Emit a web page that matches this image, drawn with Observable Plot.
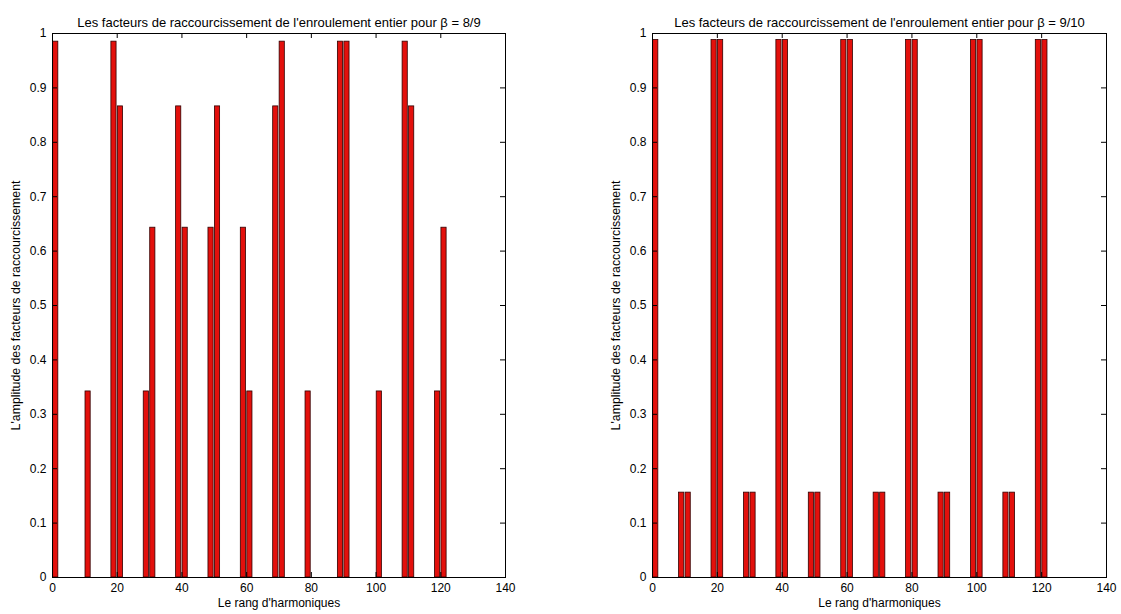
<!DOCTYPE html>
<html>
<head>
<meta charset="utf-8">
<script src="https://cdn.jsdelivr.net/npm/d3@7"></script>
<script src="https://cdn.jsdelivr.net/npm/@observablehq/plot@0.6"></script>
<style>
  html, body { margin: 0; padding: 0; background: #fff; }
  #charts { display: flex; width: 1121px; height: 614px; }
</style>
</head>
<body>
<div id="charts"></div>
<script>
// Harmonic ranks shown on both charts
const harmonics = [1, 9, 11, 19, 21, 29, 31, 39, 41, 49, 51, 59, 61, 69, 71, 79, 81, 89, 91, 99, 101, 109, 111, 119, 121];

// Shortening factors, beta = 8/9
const factors89 = [0.985, 0, 0.342, 0.985, 0.866, 0.342, 0.643, 0.866, 0.643, 0.643, 0.866, 0.643, 0.342,
                   0.866, 0.985, 0.342, 0, 0.985, 0.985, 0, 0.342, 0.985, 0.866, 0.342, 0.643];

// Shortening factors, beta = 9/10
const factors910 = [0.988, 0.156, 0.156, 0.988, 0.988, 0.156, 0.156, 0.988, 0.988, 0.156, 0.156, 0.988, 0.988,
                    0.156, 0.156, 0.988, 0.988, 0.156, 0.156, 0.988, 0.988, 0.156, 0.156, 0.988, 0.988];

const xTicks = [0, 20, 40, 60, 80, 100, 120, 140];
const yTicks = [0, 0.1, 0.2, 0.3, 0.4, 0.5, 0.6, 0.7, 0.8, 0.9, 1];

const titles = [
  "Les facteurs de raccourcissement de l'enroulement entier pour β = 8/9",
  "Les facteurs de raccourcissement de l'enroulement entier pour β = 9/10"
];
const xLabel = "Le rang d'harmoniques";
const yLabel = "L'amplitude des facteurs de raccourcissement";

const barWidth = 1.6;      // 0.8 of the smallest spacing between ranks
const tickPx = 5;          // inward tick length in pixels
const font = "'Liberation Sans', Arial, Helvetica, sans-serif";

function chart(title, values, width, marginLeft, marginRight) {
  const height = 614, marginTop = 33, marginBottom = 37;
  const data = harmonics.map((h, i) => ({h, v: values[i]}));
  const xMax = 140, yMax = 1;
  const innerW = width - marginLeft - marginRight;
  const innerH = height - marginTop - marginBottom;
  const tx = tickPx * xMax / innerW;
  const ty = tickPx * yMax / innerH;
  return Plot.plot({
    width, height, marginLeft, marginRight, marginTop, marginBottom,
    style: {fontFamily: font, fontSize: "11px", background: "#fff", color: "#000"},
    x: {domain: [0, xMax]},
    y: {domain: [0, yMax]},
    marks: [
      Plot.rectY(data, {
        x1: d => d.h - barWidth / 2, x2: d => d.h + barWidth / 2, y: "v",
        fill: "#e3100c", stroke: "#300000", strokeWidth: 0.8
      }),
      // inward ticks on all four sides
      Plot.ruleX(xTicks, {x: d => d, y1: 0, y2: ty, stroke: "#000"}),
      Plot.ruleX(xTicks, {x: d => d, y1: yMax - ty, y2: yMax, stroke: "#000"}),
      Plot.ruleY(yTicks, {y: d => d, x1: 0, x2: tx, stroke: "#000"}),
      Plot.ruleY(yTicks, {y: d => d, x1: xMax - tx, x2: xMax, stroke: "#000"}),
      Plot.frame({stroke: "#000"}),
      Plot.axisX(xTicks, {anchor: "bottom", tickSize: 0, tickPadding: 6, label: null, tickFormat: d => String(d), fontSize: 12}),
      Plot.axisY(yTicks, {anchor: "left", tickSize: 0, tickPadding: 6, label: null, tickFormat: d => String(d), fontSize: 12}),
      Plot.text([title], {text: d => d, frameAnchor: "top", dy: -16, fontSize: 13}),
      Plot.text([xLabel], {text: d => d, frameAnchor: "bottom", dy: 29, fontSize: 12}),
      Plot.text([yLabel], {text: d => d, frameAnchor: "left", textAnchor: "middle", dx: -36, rotate: -90, fontSize: 12.3})
    ]
  });
}

const root = document.getElementById("charts");
root.append(chart(titles[0], factors89, 560, 52, 55));
root.append(chart(titles[1], factors910, 561, 92, 15));
</script>
</body>
</html>
